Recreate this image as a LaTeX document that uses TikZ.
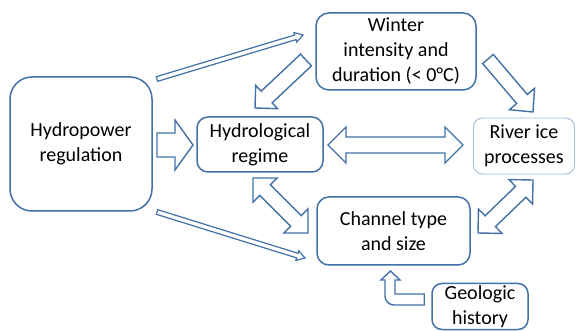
\documentclass[tikz,border=0pt]{standalone}
\usepackage{fontspec}
\setmainfont{Carlito}
\usetikzlibrary{calc}
\definecolor{bl}{RGB}{66,113,168}
\definecolor{lbl}{RGB}{160,188,220}
\tikzset{
  box/.style={draw=bl, line width=1.5pt, fill=white, rounded corners=11pt, inner sep=0pt,
    align=center, font=\fontsize{20}{25}\selectfont},
  arr/.style={draw=bl, line width=1.4pt, fill=white, line join=miter},
  thinarr/.style={draw=bl, line width=1.2pt, fill=white, line join=miter},
}
\newcommand\barrow[6]{% style, from, to, half shaft, half head, head length
  \path[#1] let \p1=(#2), \p2=(#3), \n1={atan2(\y2-\y1,\x2-\x1)}, \n2={veclen(\x2-\x1,\y2-\y1)} in
    ($(\p1)+(\n1+90:#4)$) -- ($(\p1)+(\n1:\n2-#6)+(\n1+90:#4)$) -- ($(\p1)+(\n1:\n2-#6)+(\n1+90:#5)$)
    -- (\p2) -- ($(\p1)+(\n1:\n2-#6)+(\n1-90:#5)$) -- ($(\p1)+(\n1:\n2-#6)+(\n1-90:#4)$)
    -- ($(\p1)+(\n1-90:#4)$) -- cycle;
}
\newcommand\dbarrow[6]{% style, from, to, half shaft, half head, head length
  \path[#1] let \p1=(#2), \p2=(#3), \n1={atan2(\y2-\y1,\x2-\x1)}, \n2={veclen(\x2-\x1,\y2-\y1)} in
    (\p1) -- ($(\p1)+(\n1:#6)+(\n1+90:#5)$) -- ($(\p1)+(\n1:#6)+(\n1+90:#4)$)
    -- ($(\p1)+(\n1:\n2-#6)+(\n1+90:#4)$) -- ($(\p1)+(\n1:\n2-#6)+(\n1+90:#5)$)
    -- (\p2) -- ($(\p1)+(\n1:\n2-#6)+(\n1-90:#5)$) -- ($(\p1)+(\n1:\n2-#6)+(\n1-90:#4)$)
    -- ($(\p1)+(\n1:#6)+(\n1-90:#4)$) -- ($(\p1)+(\n1:#6)+(\n1-90:#5)$) -- cycle;
}
\begin{document}
\begin{tikzpicture}[x=1pt, y=-1pt]
\useasboundingbox (0,0) rectangle (576,331);
\fill[white] (0,0) rectangle (576,331);
% boxes
\node[box, minimum width=142pt, minimum height=134pt, rounded corners=22pt] (hp) at (81,144) {Hydropower\\regulation};
\node[box, minimum width=126pt, minimum height=55pt] (hyd) at (260,144.5) {Hydrological\\regime};
\node[box, minimum width=160pt, minimum height=77pt, rounded corners=13pt] (win) at (396,51.5) {Winter\\intensity and\\duration (< 0°C)};
\node[box, draw=lbl, line width=0.9pt, minimum width=101pt, minimum height=56pt, rounded corners=9pt] (riv) at (524,146) {River ice\\processes};
\node[box, minimum width=153pt, minimum height=68pt, rounded corners=12pt] (chn) at (393.5,231) {Channel type\\and size};
\node[box, minimum width=96pt, minimum height=46pt, rounded corners=10pt] (geo) at (480,306.5) {Geologic\\history};
% arrow end points
\coordinate (a1s) at (157,145); \coordinate (a1e) at (193,145);
\coordinate (a2s) at (306,60);  \coordinate (a2e) at (255,108);
\coordinate (a3s) at (488,59);  \coordinate (a3e) at (533,112);
\coordinate (a4s) at (328,145); \coordinate (a4e) at (463,145);
\coordinate (a5s) at (253,178); \coordinate (a5e) at (308,233);
\coordinate (a6s) at (478,233); \coordinate (a6e) at (533,180);
\coordinate (a7s) at (157,79);  \coordinate (a7e) at (303,35);
\coordinate (a8s) at (157,212); \coordinate (a8e) at (305,258);
% block arrows
\barrow{arr}{a1s}{a1e}{12pt}{25pt}{18pt}
\barrow{arr}{a2s}{a2e}{8pt}{16pt}{16pt}
\barrow{arr}{a3s}{a3e}{7pt}{16.5pt}{17pt}
\dbarrow{arr}{a4s}{a4e}{8pt}{18pt}{18pt}
\dbarrow{arr}{a5s}{a5e}{7.5pt}{17pt}{17pt}
\dbarrow{arr}{a6s}{a6e}{7.5pt}{17pt}{17pt}
\barrow{thinarr}{a7s}{a7e}{2.4pt}{5pt}{8pt}
\barrow{thinarr}{a8s}{a8e}{2.4pt}{5pt}{8pt}
% bent arrow from geologic history to channel
\path[arr] ($(geo.west)+(-7,-12.5)$) -- (395,294) -- (395,280) -- (400,280) -- (390.5,271)
  -- (381,280) -- (385,280) [rounded corners=9pt] -- (385,305) [sharp corners] -- ($(geo.west)+(-7,-1.5)$) -- cycle;
\end{tikzpicture}
\end{document}
